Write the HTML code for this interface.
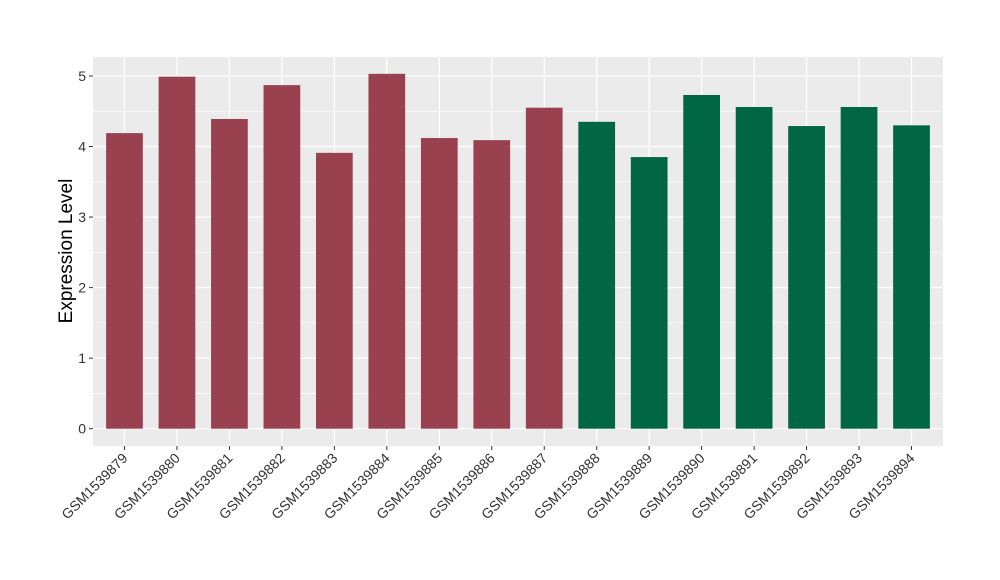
<!DOCTYPE html>
<html><head><meta charset="utf-8"><style>body{margin:0;background:#fff}svg{display:block;font-family:"Liberation Sans",sans-serif}</style></head>
<body>
<svg id="chart" width="1000" height="580">
<rect x="93" y="57" width="850" height="389" fill="#ebebeb"/>
<g id="grid"></g><g id="bars"></g><g id="axes"></g>
<text transform="translate(72,251) rotate(-90)" text-anchor="middle" font-size="19" fill="#000">Expression Level</text>
</svg>
<script>
const categories=["GSM1539879","GSM1539880","GSM1539881","GSM1539882","GSM1539883","GSM1539884","GSM1539885","GSM1539886","GSM1539887","GSM1539888","GSM1539889","GSM1539890","GSM1539891","GSM1539892","GSM1539893","GSM1539894"];
const values=[4.19,4.99,4.39,4.87,3.91,5.03,4.12,4.09,4.55,4.35,3.85,4.73,4.56,4.29,4.56,4.30];
const groups=["a","a","a","a","a","a","a","a","a","b","b","b","b","b","b","b"];
const yTicks=[0,1,2,3,4,5];
const colors={a:"#9a4150",b:"#006644"};
const NS="http://www.w3.org/2000/svg";
const left=93,right=943,step=(right-left)/(categories.length+0.2);
const x=i=>left+step*(0.6+i);
const y=v=>428.7-v*70.55;
function mk(tag,attrs,parent){const e=document.createElementNS(NS,tag);for(const k in attrs)e.setAttribute(k,attrs[k]);document.getElementById(parent).appendChild(e);return e;}
yTicks.forEach((t,i)=>{
  if(i<yTicks.length){const m=mk("line",{x1:left,x2:right,y1:y(t+0.5),y2:y(t+0.5),stroke:"#fff","stroke-width":0.6},"grid");
  
  }
  const g=mk("line",{x1:left,x2:right,y1:y(t),y2:y(t),stroke:"#fff","stroke-width":1.2},"grid");
  
  
  const tk=mk("line",{x1:left-4,x2:left,y1:y(t),y2:y(t),stroke:"#333"},"axes");
  
  
  const lb=mk("text",{x:left-7,y:y(t)+5,"text-anchor":"end","font-size":14,fill:"#333"},"axes");
  lb.textContent=t;
  
  
});
categories.forEach((c,i)=>{
  const g=mk("line",{x1:x(i),x2:x(i),y1:57,y2:446,stroke:"#fff","stroke-width":1.2},"grid");
  
  
  const w=step*0.7;
  const b=mk("rect",{x:x(i)-w/2,y:y(values[i]),width:w,height:y(0)-y(values[i]),fill:colors[groups[i]]},"bars");
  
  
  const tk=mk("line",{x1:x(i),x2:x(i),y1:446,y2:450,stroke:"#333"},"axes");
  
  
  const lb=mk("text",{transform:`translate(${x(i)+4},${459}) rotate(-45)`,"text-anchor":"end","font-size":14,fill:"#333"},"axes");
  lb.textContent=c;
  
  
});
</script>
</body></html>
